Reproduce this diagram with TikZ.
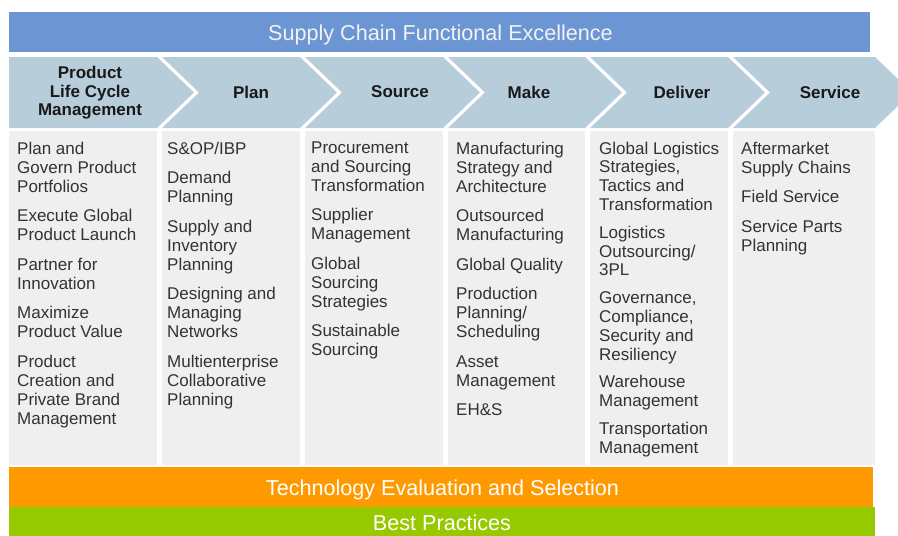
\documentclass[tikz,border=0pt]{standalone}
\usepackage{fontspec}
\setmainfont{Liberation Sans}
\usetikzlibrary{positioning}
\definecolor{scblue}{HTML}{6B96D3}
\definecolor{scchev}{HTML}{B8CDDA}
\definecolor{sccol}{HTML}{EFEFEF}
\definecolor{scorange}{HTML}{FF9900}
\definecolor{scgreen}{HTML}{97C900}
\definecolor{sctext}{HTML}{333333}
\begin{document}
\begin{tikzpicture}[
    x=1pt, y=-1pt,
    banner/.style={anchor=base, inner sep=0pt, text=white!95!black, font=\fontsize{21.6}{24}\selectfont},
    head/.style={align=center, inner sep=0pt, text=black!90, font=\bfseries\fontsize{17}{18.5}\selectfont},
    items/.style={anchor=north west, inner sep=0pt, align=left, text=sctext, font=\fontsize{17}{19}\selectfont}
  ]
    \useasboundingbox (0,0) rectangle (898,536);
    \clip (0,0) rectangle (898,536);
    \fill[scblue] (9,12) rectangle (870,52);
    \node[banner] (excel) at (440.5,40) {Supply Chain Functional Excellence};
    \foreach \l/\r [count=\i] in {9/157,162/300,305/443,448/585,590/728,733/875} {
      \pgfmathsetmacro\notch{\i>1 ? 37 : 0}
      \fill[scchev] (\l,57) -- (\r,57) -- (\r+37,92.5) -- (\r,128) -- (\l,128) -- (\l+\notch,92.5) -- cycle;
      \fill[sccol] (\l,131) rectangle (\r,465);
    }
    \node[head] (hplm) at (90,93) {Product\\Life Cycle\\Management};
    \node[head] (hplan) at (251,92) {Plan};
    \node[head] (hsource) at (400,92) {Source};
    \node[head] (hmake) at (529,92) {Make};
    \node[head] (hdeliver) at (682,92) {Deliver};
    \node[head] (hservice) at (830,92) {Service};
    \node[items] (lplm) at (17,141.5) {Plan and\\Govern Product\\Portfolios\\[10.5pt]Execute Global\\Product Launch\\[10.5pt]Partner for\\Innovation\\[10.5pt]Maximize\\Product Value\\[10.5pt]Product\\Creation and\\Private Brand\\Management};
    \node[items] (lplan) at (167,141.5) {S\&OP/IBP\\[10.5pt]Demand\\Planning\\[10.5pt]Supply and\\Inventory\\Planning\\[10.5pt]Designing and\\Managing\\Networks\\[10.5pt]Multienterprise\\Collaborative\\Planning};
    \node[items] (lsource) at (311,141.5) {Procurement\\and Sourcing\\Transformation\\[10.5pt]Supplier\\Management\\[10.5pt]Global\\Sourcing\\Strategies\\[10.5pt]Sustainable\\Sourcing};
    \node[items] (lmake) at (456,141.5) {Manufacturing\\Strategy and\\Architecture\\[10.5pt]Outsourced\\Manufacturing\\[10.5pt]Global Quality\\[10.5pt]Production\\Planning/\\Scheduling\\[10.5pt]Asset\\Management\\[10.5pt]EH\&S};
    \node[items, font=\fontsize{17}{18.8}\selectfont] (ldeliver) at (599,141.5) {Global Logistics\\Strategies,\\Tactics and\\Transformation\\[9pt]Logistics\\Outsourcing/\\3PL\\[9pt]Governance,\\Compliance,\\Security and\\Resiliency\\[9pt]Warehouse\\Management\\[9pt]Transportation\\Management};
    \node[items] (lservice) at (741,141.5) {Aftermarket\\Supply Chains\\[10.5pt]Field Service\\[10.5pt]Service Parts\\Planning};
    \fill[scorange] (9,467) rectangle (873,507);
    \fill[scgreen] (9,507) rectangle (875,540);
    \node[banner, text=white] (tech) at (442.5,495) {Technology Evaluation and Selection};
    \node[banner, text=white] (best) at (442,530) {Best Practices};
  \end{tikzpicture}
\end{document}
